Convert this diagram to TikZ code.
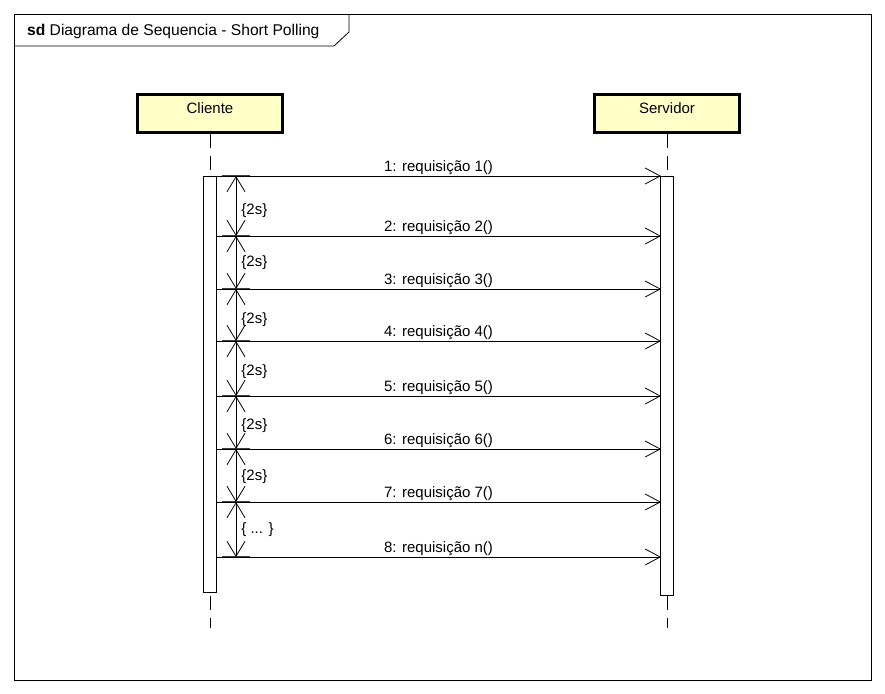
\documentclass[tikz,border=0pt]{standalone}
\usepackage{fontspec}
\setmainfont{Liberation Sans}
\usetikzlibrary{positioning,arrows.meta}
\definecolor{boxfill}{RGB}{255,255,200}
\begin{document}
\begin{tikzpicture}[x=1pt, y=-1pt, node distance={457pt},
  actor/.style = {draw, line width=3pt, fill=boxfill, minimum width=145pt, minimum height=38pt, inner sep=0pt, text depth=9pt, font=\fontsize{15}{18}\selectfont},
  bar/.style = {draw, fill=white, line width=0.8pt, minimum width=13pt, inner sep=0pt},
  life/.style = {line width=0.8pt, dash pattern=on 14pt off 8pt},
  msg/.style = {line width=0.8pt, -{Straight Barb[length=15pt, width=16pt, line width=0.8pt]}},
  dur/.style = {line width=0.8pt, {Straight Barb[length=15pt, width=18pt, line width=0.8pt]}-{Straight Barb[length=15pt, width=18pt, line width=0.8pt]}},
  tick/.style = {line width=1.2pt, black!75},
  lbl/.style = {font=\fontsize{15}{18}\selectfont, inner sep=3pt}]
\useasboundingbox (0,0) rectangle (885,693);

% frame and title tab
\draw[line width=0.8pt] (14,14) rectangle (871,680);
\draw[line width=0.8pt] (14,46) -- (334,46) -- (349,32) -- (349,14);
\node[lbl, anchor=west, font=\fontsize{15.6}{18}\selectfont] (title) at (24,31) {\textbf{sd} Diagrama de Sequencia - Short Polling};

% lifelines
\node[actor] (cli) at (210,113) {Cliente};
\node[actor] (srv) [right of=cli] {Servidor};
\coordinate (cliend) at (210,628);
\coordinate (srvend) at (667,628);
\draw[life] (cli) -- (cliend);
\draw[life] (srv) -- (srvend);

% activations
\node[bar, minimum height=416pt] (clibar) at (210,384) {};
\node[bar, minimum height=419pt] (srvbar) at (667,385.5) {};

% message points
\coordinate (c1) at (216,176); \coordinate (s1) at (661,176);
\coordinate (c2) at (216,236); \coordinate (s2) at (661,236);
\coordinate (c3) at (216,289); \coordinate (s3) at (661,289);
\coordinate (c4) at (216,341); \coordinate (s4) at (661,341);
\coordinate (c5) at (216,396); \coordinate (s5) at (661,396);
\coordinate (c6) at (216,449); \coordinate (s6) at (661,449);
\coordinate (c7) at (216,502); \coordinate (s7) at (661,502);
\coordinate (c8) at (216,557); \coordinate (s8) at (661,557);

% duration points
\coordinate (d1) at (236,176);
\coordinate (d2) at (236,236);
\coordinate (d3) at (236,289);
\coordinate (d4) at (236,341);
\coordinate (d5) at (236,396);
\coordinate (d6) at (236,449);
\coordinate (d7) at (236,502);
\coordinate (d8) at (236,557);

% ticks
\draw[tick] (222,176) -- (250,176);
\draw[tick] (222,236) -- (250,236);
\draw[tick] (222,289) -- (250,289);
\draw[tick] (222,341) -- (250,341);
\draw[tick] (222,396) -- (250,396);
\draw[tick] (222,449) -- (250,449);
\draw[tick] (222,502) -- (250,502);
\draw[tick] (222,557) -- (250,557);

% messages
\draw[msg] (c1) -- node[lbl, above, inner sep=1pt] {1: requisição 1()} (s1);
\draw[msg] (c2) -- node[lbl, above, inner sep=1pt] {2: requisição 2()} (s2);
\draw[msg] (c3) -- node[lbl, above, inner sep=1pt] {3: requisição 3()} (s3);
\draw[msg] (c4) -- node[lbl, above, inner sep=1pt] {4: requisição 4()} (s4);
\draw[msg] (c5) -- node[lbl, above, inner sep=1pt] {5: requisição 5()} (s5);
\draw[msg] (c6) -- node[lbl, above, inner sep=1pt] {6: requisição 6()} (s6);
\draw[msg] (c7) -- node[lbl, above, inner sep=1pt] {7: requisição 7()} (s7);
\draw[msg] (c8) -- node[lbl, above, inner sep=1pt] {8: requisição n()} (s8);

% durations
\draw[dur] (d1) -- node[lbl, right, xshift=2pt, pos=0.58] {\{2s\}} (d2);
\draw[dur] (d2) -- node[lbl, right, xshift=2pt, pos=0.5] {\{2s\}} (d3);
\draw[dur] (d3) -- node[lbl, right, xshift=2pt, pos=0.58] {\{2s\}} (d4);
\draw[dur] (d4) -- node[lbl, right, xshift=2pt, pos=0.55] {\{2s\}} (d5);
\draw[dur] (d5) -- node[lbl, right, xshift=2pt, pos=0.55] {\{2s\}} (d6);
\draw[dur] (d6) -- node[lbl, right, xshift=2pt, pos=0.53] {\{2s\}} (d7);
\draw[dur] (d7) -- node[lbl, right, xshift=2pt, pos=0.5] {\{ ... \}} (d8);

\end{tikzpicture}
\end{document}
